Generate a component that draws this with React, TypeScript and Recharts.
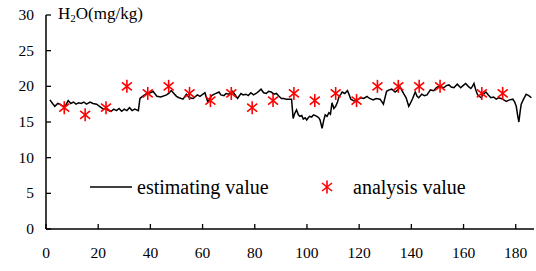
import { ComposedChart, Line, Scatter, XAxis, YAxis } from 'recharts';

// estimating value (black line)
const estX = [
  1.5, 2.5, 3.4, 4.5, 5.3, 6.5, 7.5, 8.5, 9.5, 10.5, 11.5, 12.5, 13.5, 14.5, 15.5, 16.9, 18, 19.4, 20.5, 22,
  23, 24, 24.9, 26, 27, 28, 29, 30, 31, 32, 33, 34, 35.4, 36, 37, 38.6, 40, 41, 42.5, 44,
  46.2, 47, 48, 50, 51, 52.5, 53.8, 55, 56.4, 58, 59, 60.9, 62, 63.5, 64.5, 66.3, 67, 68.2, 69, 70.2,
  71.5, 72.5, 73.4, 74.7, 75.5, 76.6, 77.5, 78.5, 79.5, 80.5, 81.5, 82.4, 83.4, 84.4, 85.3, 86.3, 87.3, 88.3, 89.3, 90.2,
  91, 92.1, 93, 94.1, 94.7, 95.3, 96, 96.7, 97.3, 98, 98.6, 99.3, 99.9, 100.5, 101, 101.8, 102.5, 103.2, 103.8, 104.5,
  105, 105.8, 106.4, 107, 107.7, 108.4, 109, 109.6, 110.3, 111, 111.7, 112.3, 113, 113.5, 114.5, 115.5, 116.2, 116.8, 117.7, 118.7,
  119.7, 120.7, 121.8, 123, 124, 125.4, 126.5, 128, 129.3, 130.5, 131.5, 132.5, 133.8, 134.8, 135.7, 137, 138, 139, 139.6, 140.5,
  141.5, 142.2, 142.8, 144, 145, 146, 147.3, 148.6, 149.5, 150.5, 151.5, 152.4, 153.4, 154.4, 155.3, 156.3, 157.6, 158.9, 159.8, 160.8,
  161.8, 162.8, 163.4, 164, 164.7, 165.4, 166.7, 167.6, 168.6, 169.5, 170.5, 171.5, 172.5, 173.4, 174.4, 175.4, 176.4, 177.6, 178.9, 179.6,
  180.2, 180.7, 181.2, 181.7, 182.1, 183, 184, 185, 186,
];
const estY = [
  18.1, 17.6, 17.2, 17.6, 17.5, 17.2, 17.3, 18.0, 17.6, 17.8, 17.5, 17.7, 17.6, 17.8, 17.5, 17.8, 17.6, 17.5, 17.2, 16.8,
  16.9, 16.6, 16.5, 16.8, 16.6, 16.9, 16.5, 16.8, 16.6, 17.0, 16.6, 16.8, 16.6, 18.3, 18.6, 19.0, 19.1, 19.3, 18.6, 18.5,
  18.8, 19.0, 19.4, 18.6, 18.4, 18.2, 18.9, 18.4, 18.3, 18.8, 18.6, 19.1, 17.8, 18.7, 18.9, 19.2, 18.8, 18.7, 19.0, 18.9,
  19.3, 18.8, 18.3, 19.0, 18.8, 18.9, 18.7, 19.1, 18.8, 19.0, 19.3, 19.6, 19.1, 19.0, 19.3, 19.2, 18.9, 19.0, 18.6, 18.3,
  18.3, 18.2, 18.2, 18.2, 15.5, 16.2, 16.7, 16.0, 15.8, 15.9, 15.4, 15.6, 15.3, 15.6, 15.8, 15.7, 16.0, 15.9, 15.8, 15.6,
  15.3, 14.1, 15.2, 16.0, 15.8, 16.3, 16.1, 17.7, 16.9, 17.2, 17.8, 18.6, 18.9, 19.2, 19.0, 19.4, 18.8, 18.2, 18.0, 17.9,
  18.2, 18.4, 18.3, 18.6, 18.3, 18.1, 18.3, 18.2, 17.5, 19.3, 19.5, 19.6, 19.2, 19.5, 19.9, 19.0, 18.4, 17.2, 17.6, 18.3,
  19.2, 18.6, 18.4, 18.9, 18.7, 18.8, 19.5, 19.4, 19.8, 20.0, 19.9, 19.8, 20.1, 20.2, 19.9, 19.8, 20.3, 19.8, 20.1, 20.4,
  20.0, 19.7, 20.0, 20.4, 19.5, 18.8, 18.4, 18.9, 19.2, 18.8, 18.4, 18.5, 18.2, 18.4, 18.3, 18.1, 17.9, 18.1, 18.2, 17.8,
  17.2, 16.0, 15.0, 16.5, 17.5, 18.2, 18.9, 18.7, 18.4,
];

// analysis value (red asterisks)
const anaX = [7, 15, 23, 31, 39, 47, 55, 63, 71, 79, 87, 95, 103, 111, 119, 127, 135, 143, 151, 167, 175];
const anaY = [17, 16, 17, 20, 19, 20, 19, 18, 19, 17, 18, 19, 18, 19, 18, 20, 20, 20, 20, 19, 19];

const xTicks = [0, 20, 40, 60, 80, 100, 120, 140, 160, 180];
const yTicks = [0, 5, 10, 15, 20, 25, 30];

const FONT = '"Liberation Serif", "Times New Roman", serif';

const estData = estX.map((x, i) => ({ x, y: estY[i] }));
const anaData = anaX.map((x, i) => ({ x, y: anaY[i] }));

function Star(props: any) {
  const { cx, cy } = props;
  if (cx == null || cy == null) return null;
  return (
    <g stroke="#ff0000" strokeWidth={1.6}>
      <line x1={cx} y1={cy - 6.5} x2={cx} y2={cy + 6.5} />
      <line x1={cx - 5} y1={cy - 4} x2={cx + 5} y2={cy + 4} />
      <line x1={cx - 5} y1={cy + 4} x2={cx + 5} y2={cy - 4} />
    </g>
  );
}

function XTick({ x, y, payload }: any) {
  return (
    <g>
      <line x1={x} x2={x} y1={y} y2={y - 5} stroke="#000" strokeWidth={1.3} />
      <text x={x} y={y + 29} textAnchor="middle" fontFamily="Liberation Serif" fontSize={15.5} fill="#000">{payload.value}</text>
    </g>
  );
}

function YTick({ x, y, payload }: any) {
  return (
    <g>
      <line x1={x} x2={x + 5} y1={y} y2={y} stroke="#000" strokeWidth={1.3} />
      <text x={x - 12} y={y + 5} textAnchor="end" fontFamily="Liberation Serif" fontSize={15.5} fill="#000">{payload.value}</text>
    </g>
  );
}

export default function App() {
  return (
    <div style={{ position: 'absolute', left: 0, top: 0, width: 536, height: 271, background: '#fff' }}>
      <ComposedChart width={536} height={271} margin={{ top: 15, right: 2, bottom: 0, left: 0 }}>
        <XAxis
          type="number"
          dataKey="x"
          domain={[0, 187]}
          ticks={xTicks}
          interval={0}
          tickSize={0}
          tickMargin={0}
          tick={<XTick />}
          axisLine={{ stroke: '#000', strokeWidth: 1.5 }}
          tickLine={false}
          height={42}
          allowDataOverflow
        />
        <YAxis
          type="number"
          dataKey="y"
          domain={[0, 30]}
          ticks={yTicks}
          interval={0}
          tickSize={0}
          tickMargin={0}
          tick={<YTick />}
          axisLine={{ stroke: '#000', strokeWidth: 1.5 }}
          tickLine={false}
          width={46}
        />
        <Line
          data={estData}
          dataKey="y"
          type="linear"
          stroke="#000"
          strokeWidth={1.5}
          dot={false}
          activeDot={false}
          isAnimationActive={false}
          name="estimating value"
        />
        <Scatter
          data={anaData}
          dataKey="y"
          shape={<Star />}
          isAnimationActive={false}
          name="analysis value"
        />
      </ComposedChart>
      <div style={{ position: 'absolute', left: 58, top: 4, fontFamily: FONT, fontSize: 17, color: '#000', lineHeight: '20px' }}>
        H<sub style={{ fontSize: 11, verticalAlign: '-3px' }}>2</sub>O(mg/kg)
      </div>
      <div style={{ position: 'absolute', left: 90, top: 174, display: 'flex', alignItems: 'center', fontFamily: FONT, fontSize: 20, color: '#000', whiteSpace: 'nowrap', lineHeight: '26px' }}>
        <svg width={42} height={10} style={{ marginRight: 5 }}>
          <line x1={0} x2={42} y1={5} y2={5} stroke="#000" strokeWidth={1.6} />
        </svg>
        <span style={{ width: 183 }}>estimating value</span>
        <svg width={14} height={16} style={{ marginRight: 19 }}>
          <Star cx={7} cy={8} />
        </svg>
        <span>analysis value</span>
      </div>
    </div>
  );
}
